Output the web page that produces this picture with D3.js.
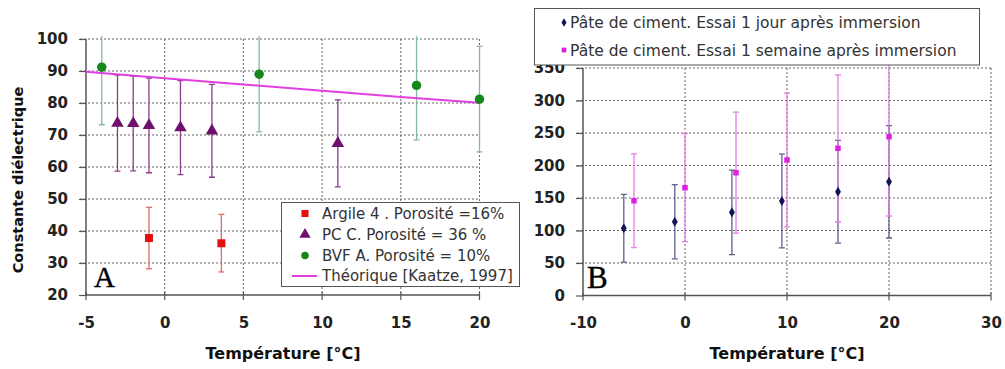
<!DOCTYPE html>
<html><head><meta charset="utf-8">
<script src="https://cdn.jsdelivr.net/npm/d3@7"></script>
<style>body{margin:0;background:#fff}svg{display:block}</style>
</head><body>
<svg id="c" width="1005" height="369"></svg>
<script>
// ---------- DATA ----------
// Left panel (A)
const leftXTicks = [-5, 0, 5, 10, 15, 20];
const leftYTicks = [20, 30, 40, 50, 60, 70, 80, 90, 100];
const argileT = [-1, 3.6];
const argileV = [37.8, 36.2];
const argileE = [9.6, 9.0];
const pccT = [-3, -2, -1, 1, 3, 11];
const pccV = [73.7, 73.6, 73.0, 72.3, 71.3, 67.4];
const pccE = [15.0, 14.8, 14.8, 14.7, 14.5, 13.6];
const bvfT = [-4, 6, 16, 20];
const bvfV = [91.2, 89.0, 85.5, 81.2];
const bvfE = [18, 18, 17, 16.5];
const theoT = [-5, 0, 5, 10, 15, 20];
const theoV = [89.8, 87.7, 85.8, 83.8, 81.9, 80.1];
const leftLegend = ["Argile 4 . Porosité =16%", "PC C. Porosité = 36 %", "BVF A. Porosité = 10%", "Théorique [Kaatze, 1997]"];

// Right panel (B)
const rightXTicks = [-10, 0, 10, 20, 30];
const rightYTicks = [0, 50, 100, 150, 200, 250, 300, 350];
const jourT = [-6, -1, 4.6, 9.5, 15, 20];
const jourV = [103.5, 113.5, 128, 145.4, 159.7, 175];
const jourE = [52, 57, 65, 72, 79, 86.5];
const semT = [-5, 0, 5, 10, 15, 20];
const semV = [145.8, 165.9, 189, 208.5, 226.5, 244.3];
const semE = [72, 83, 93, 103, 113, 122];
const rightLegend = ["Pâte de ciment. Essai 1 jour après immersion", "Pâte de ciment. Essai 1 semaine après immersion"];

// ---------- DRAW ----------
const svg = d3.select("#c");
const tickFont = "DejaVu Sans, sans-serif";
const gridColor = "#666", axisColor = "#555";
const fmt = d => String(d); // plain hyphen for negatives

function panel(o) {
  const g = svg.append("g");
  const x = o.x, y = o.y;
  const [x0, x1] = x.range(), [y0, y1] = y.range();
  g.append("g").selectAll("line").data(o.yTicks.slice(1)).join("line")
    .attr("x1", x0 - 6).attr("x2", x1).attr("y1", d => y(d)).attr("y2", d => y(d))
    .attr("stroke", gridColor).attr("stroke-dasharray", "2,2").attr("stroke-width", 1);
  g.append("g").selectAll("line").data(o.xTicks.slice(1)).join("line")
    .attr("x1", d => x(d)).attr("x2", d => x(d)).attr("y1", y1).attr("y2", y0)
    .attr("stroke", gridColor).attr("stroke-dasharray", "2,2").attr("stroke-width", 1);
  const ax = g.append("g").attr("transform", `translate(0,${y0})`)
    .call(d3.axisBottom(x).tickValues(o.xTicks).tickSize(0).tickPadding(22).tickFormat(fmt));
  ax.select(".domain").remove();
  ax.selectAll("text").attr("font-family", tickFont).attr("font-weight", "bold").attr("font-size", 15).attr("fill", "#222");
  g.append("g").selectAll("line").data(o.xTicks).join("line")
    .attr("x1", d => x(d)).attr("x2", d => x(d)).attr("y1", y0 - 3).attr("y2", y0 + 5)
    .attr("stroke", axisColor).attr("stroke-width", 1.2);
  const ay = g.append("g").attr("transform", `translate(${x0},0)`)
    .call(d3.axisLeft(y).tickValues(o.yTicks).tickSize(7).tickPadding(11).tickFormat(fmt));
  ay.select(".domain").remove();
  ay.selectAll(".tick line").attr("stroke", axisColor).attr("stroke-width", 1.2);
  ay.selectAll("text").attr("font-family", tickFont).attr("font-weight", "bold").attr("font-size", 15).attr("fill", "#222");
  g.append("line").attr("x1", x0).attr("x2", x0).attr("y1", y1).attr("y2", y0 + 1)
    .attr("stroke", axisColor).attr("stroke-width", 1.5);
  g.append("line").attr("x1", x0 - 1).attr("x2", x1).attr("y1", y0).attr("y2", y0)
    .attr("stroke", axisColor).attr("stroke-width", 1.5);
  const id = "clip" + o.name;
  svg.append("clipPath").attr("id", id).append("rect")
    .attr("x", x0 - 10).attr("y", y1 - 3).attr("width", x1 - x0 + 20).attr("height", y0 - y1 + 13);
  const data = g.append("g").attr("clip-path", `url(#${id})`);
  return { g, data };
}

function errorBars(layer, x, y, T, V, E, color, cap) {
  const gg = layer.append("g").attr("stroke", color).attr("stroke-width", 1.3).attr("fill", "none");
  T.forEach((t, i) => {
    const cx = x(t), top = y(V[i] + E[i]), bot = y(V[i] - E[i]);
    gg.append("line").attr("x1", cx).attr("x2", cx).attr("y1", top).attr("y2", bot);
    gg.append("line").attr("x1", cx - cap).attr("x2", cx + cap).attr("y1", top).attr("y2", top);
    gg.append("line").attr("x1", cx - cap).attr("x2", cx + cap).attr("y1", bot).attr("y2", bot);
  });
}
function markers(layer, x, y, T, V, type, size, color) {
  layer.append("g").selectAll("path").data(T.map((t, i) => [t, V[i]])).join("path")
    .attr("transform", d => `translate(${x(d[0])},${y(d[1])})`)
    .attr("d", d3.symbol().type(type).size(size))
    .attr("fill", color);
}

// Left panel
const xL = d3.scaleLinear().domain([-5, 20]).range([86, 479.5]);
const yL = d3.scaleLinear().domain([20, 100]).range([295, 39]);
const L = panel({ name: "L", x: xL, y: yL, xTicks: leftXTicks, yTicks: leftYTicks });
errorBars(L.data, xL, yL, bvfT, bvfV, bvfE, "#86b9a0", 3);
errorBars(L.data, xL, yL, pccT, pccV, pccE, "#8b3d8b", 3);
errorBars(L.data, xL, yL, argileT, argileV, argileE, "#e06a6a", 3);
L.data.append("path").datum(theoT.map((t, i) => [t, theoV[i]]))
  .attr("d", d3.line().x(d => xL(d[0])).y(d => yL(d[1])))
  .attr("fill", "none").attr("stroke", "#e040e0").attr("stroke-width", 2);
markers(L.data, xL, yL, bvfT, bvfV, d3.symbolCircle, 70, "#17861b");
markers(L.data, xL, yL, pccT, pccV, d3.symbolTriangle, 68, "#6e106e");
markers(L.data, xL, yL, argileT, argileV, d3.symbolSquare, 64, "#e41010");

// Left legend
const lg = svg.append("g");
lg.append("rect").attr("x", 281.5).attr("y", 202.5).attr("width", 238).attr("height", 84)
  .attr("fill", "#fff").attr("stroke", "#555").attr("stroke-width", 1);
const lRows = [213.5, 234.5, 255.5, 276];
lg.append("path").attr("transform", `translate(305,${lRows[0]})`).attr("d", d3.symbol().type(d3.symbolSquare).size(50)).attr("fill", "#e41010");
lg.append("path").attr("transform", `translate(305,${lRows[1]})`).attr("d", d3.symbol().type(d3.symbolTriangle).size(55)).attr("fill", "#6e106e");
lg.append("path").attr("transform", `translate(305,${lRows[2]})`).attr("d", d3.symbol().type(d3.symbolCircle).size(45)).attr("fill", "#17861b");
lg.append("line").attr("x1", 292).attr("x2", 317).attr("y1", lRows[3]).attr("y2", lRows[3]).attr("stroke", "#e040e0").attr("stroke-width", 2);
lg.selectAll("text").data(leftLegend).join("text")
  .attr("x", 322).attr("y", (d, i) => lRows[i]).attr("dy", "0.36em")
  .attr("font-family", "DejaVu Sans, sans-serif").attr("font-size", 15).attr("fill", "#333").text(d => d);

// Right panel
const xR = d3.scaleLinear().domain([-10, 30]).range([583, 991]);
const yR = d3.scaleLinear().domain([0, 350]).range([295.5, 68]);
const R = panel({ name: "R", x: xR, y: yR, xTicks: rightXTicks, yTicks: rightYTicks });
errorBars(R.data, xR, yR, jourT, jourV, jourE, "#5d5f8e", 3);
errorBars(R.data, xR, yR, semT, semV, semE, "#e77ce7", 3);
markers(R.data, xR, yR, jourT, jourV, d3.symbolDiamond, 30, "#141458");
markers(R.data, xR, yR, semT, semV, d3.symbolSquare, 30, "#e020e0");

// Right legend
const rg = svg.append("g");
rg.append("rect").attr("x", 534.5).attr("y", 8.5).attr("width", 445).attr("height", 56.5)
  .attr("fill", "#fff").attr("stroke", "#555").attr("stroke-width", 1);
const rRows = [22.5, 50];
rg.append("path").attr("transform", `translate(564,${rRows[0]})`).attr("d", d3.symbol().type(d3.symbolDiamond).size(22)).attr("fill", "#141458");
rg.append("path").attr("transform", `translate(564,${rRows[1]})`).attr("d", d3.symbol().type(d3.symbolSquare).size(22)).attr("fill", "#e020e0");
rg.selectAll("text").data(rightLegend).join("text")
  .attr("x", 570).attr("y", (d, i) => rRows[i]).attr("dy", "0.36em")
  .attr("font-family", "DejaVu Sans, sans-serif").attr("font-size", 15.5).attr("fill", "#333").text(d => d);

// Axis titles
svg.append("text").attr("x", 283).attr("y", 353).attr("dy", "0.36em").attr("text-anchor", "middle")
  .attr("font-family", tickFont).attr("font-weight", "bold").attr("font-size", 16).attr("fill", "#111")
  .text("Température [°C]");
svg.append("text").attr("x", 787).attr("y", 353).attr("dy", "0.36em").attr("text-anchor", "middle")
  .attr("font-family", tickFont).attr("font-weight", "bold").attr("font-size", 16).attr("fill", "#111")
  .text("Température [°C]");
svg.append("text").attr("transform", "translate(18,180) rotate(-90)").attr("dy", "0.36em").attr("text-anchor", "middle")
  .attr("font-family", tickFont).attr("font-weight", "bold").attr("font-size", 14.5).attr("fill", "#111")
  .text("Constante diélectrique");

// Panel letters
svg.append("text").attr("x", 94).attr("y", 287).attr("font-family", "Liberation Serif, serif").attr("font-size", 29).attr("fill", "#000").attr("stroke", "#000").attr("stroke-width", 0.4).text("A");
svg.append("text").attr("x", 587).attr("y", 288).attr("font-family", "Liberation Serif, serif").attr("font-size", 31).attr("fill", "#000").attr("stroke", "#000").attr("stroke-width", 0.4).text("B");
</script>
</body></html>
